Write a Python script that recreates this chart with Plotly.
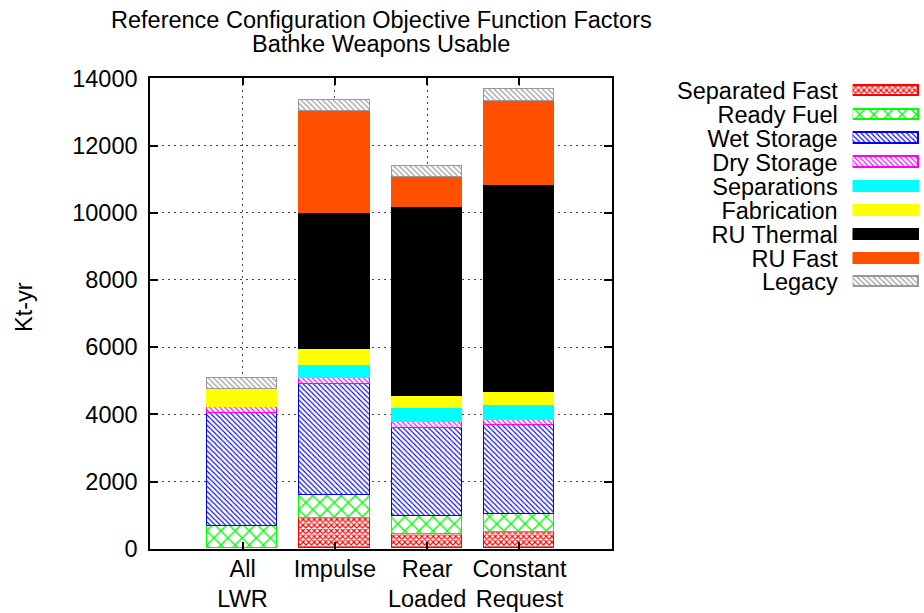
import plotly.graph_objects as go

# ---------------- data ----------------
categories = ["All<br>LWR", "Impulse", "Rear<br>Loaded", "Constant<br>Request"]
series_names = ["Separated Fast", "Ready Fuel", "Wet Storage", "Dry Storage",
                "Separations", "Fabrication", "RU Thermal", "RU Fast", "Legacy"]

sep_fast     = [None, 900, 430, 480]
ready_fuel   = [670, 680, 530, 530]
wet_storage  = [3360, 3320, 2610, 2650]
dry_storage  = [180, 180, 180, 170]
separations  = [None, 370, 420, 440]
fabrication  = [520, 480, 380, 380]
ru_thermal   = [None, 4060, 5620, 6180]
ru_fast      = [None, 3020, 880, 2490]
legacy       = [340, 340, 330, 340]

y_ticks = [0, 2000, 4000, 6000, 8000, 10000, 12000, 14000]
y_tick_labels = ["0", "2000", "4000", "6000", "8000", "10000", "12000", "14000"]
title_lines = ["Reference Configuration Objective Function Factors", "Bathke Weapons Usable"]
y_title = "Kt-yr"

values = [sep_fast, ready_fuel, wet_storage, dry_storage, separations,
          fabrication, ru_thermal, ru_fast, legacy]

# ---------------- styles ----------------
colors = ["#ff0000", "#00ff00", "#0000ff", "#ff00ff", "#00ffff",
          "#ffff00", "#000000", "#ff5000", "#999999"]
patterns = [
    dict(shape="x", size=4.0, solidity=0.5),
    dict(shape="x", size=10, solidity=0.25),
    dict(shape="\\", size=3.6, solidity=0.3),
    dict(shape="\\", size=3.6, solidity=0.3),
    None, None, None, None,
    dict(shape="\\", size=3.8, solidity=0.3),
]

FONT = "Liberation Sans, Arial, sans-serif"
FS = 23.5
W, H = 924, 613
# plot area in pixels
PL, PR, PT, PB = 150.3, 611.7, 78.3, 548.7


def marker_for(i):
    p = patterns[i]
    if p is None:
        return dict(color=colors[i], line=dict(color=colors[i], width=1))
    return dict(color="white",
                pattern=dict(shape=p["shape"], size=p["size"], solidity=p["solidity"],
                             fgcolor=colors[i], bgcolor="white", fgopacity=1,
                             fillmode="overlay"),
                line=dict(color=colors[i], width=1.6))


fig = go.Figure()
xs = list(range(len(categories)))
for i, name in enumerate(series_names):
    fig.add_trace(go.Bar(x=xs, y=values[i], name=name, width=0.76,
                         marker=marker_for(i), showlegend=False,
                         xaxis="x", yaxis="y"))

# legend drawn as small horizontal bars on an auxiliary axis
for i, name in enumerate(series_names):
    fig.add_trace(go.Bar(x=[1], y=[name], orientation="h", width=0.44,
                         marker=marker_for(i), showlegend=False,
                         xaxis="x2", yaxis="y2", hoverinfo="skip"))

# legend geometry
leg_x0, leg_x1 = 852.7, 919.0
row = 23.9
leg_top = 91 - row / 2
leg_bot = leg_top + row * len(series_names)

fig.update_layout(
    width=W, height=H,
    margin=dict(l=0, r=0, t=0, b=0, autoexpand=False),
    paper_bgcolor="white", plot_bgcolor="white",
    barmode="stack", bargap=0,
    font=dict(family=FONT, size=FS, color="black"),
    xaxis=dict(
        domain=[PL / W, PR / W], automargin=False,
        tickmode="array", tickvals=xs, ticktext=categories,
        range=[-1, 4],
        showgrid=True, gridcolor="#444", gridwidth=1, griddash="2px,4px",
        ticks="inside", ticklen=7, tickwidth=1.5, tickcolor="black",
        showline=True, linecolor="black", linewidth=2, mirror="ticks",
        zeroline=False, anchor="y",
        ticklabelstandoff=-2,
        tickfont=dict(size=FS),
    ),
    yaxis=dict(
        domain=[(H - PB) / H, (H - PT) / H], automargin=False,
        range=[0, 14000], tickmode="array", tickvals=y_ticks, ticktext=y_tick_labels,
        showgrid=True, gridcolor="#444", gridwidth=1, griddash="2px,4px",
        ticks="inside", ticklen=8, tickwidth=1.5, tickcolor="black",
        showline=True, linecolor="black", linewidth=2, mirror="ticks",
        zeroline=False, anchor="x",
        ticklabelstandoff=6,
        tickfont=dict(size=FS),
    ),
    xaxis2=dict(domain=[leg_x0 / W, leg_x1 / W], range=[0, 1], visible=False,
                anchor="y2", fixedrange=True, automargin=False),
    yaxis2=dict(domain=[(H - leg_bot) / H, (H - leg_top) / H], automargin=False,
                type="category", categoryorder="array", categoryarray=series_names,
                tickmode="array", tickvals=series_names, ticktext=series_names,
                range=[len(series_names) - 0.5, -0.5],
                showgrid=False, showline=False, zeroline=False, ticks="",
                ticklabelstandoff=14, anchor="x2", tickfont=dict(size=FS)),
    annotations=[
        dict(text=title_lines[0], x=(PL + PR) / 2 / W, y=(H - 20.5) / H,
             xref="paper", yref="paper", xanchor="center", yanchor="middle",
             showarrow=False, font=dict(size=FS)),
        dict(text=title_lines[1], x=(PL + PR) / 2 / W, y=(H - 43.5) / H,
             xref="paper", yref="paper", xanchor="center", yanchor="middle",
             showarrow=False, font=dict(size=FS)),
        dict(text=y_title, x=24 / W, y=(H - 307) / H, textangle=-90,
             xref="paper", yref="paper", xanchor="center", yanchor="middle",
             showarrow=False, font=dict(size=FS)),
    ],
)

fig.write_html("out.html")
